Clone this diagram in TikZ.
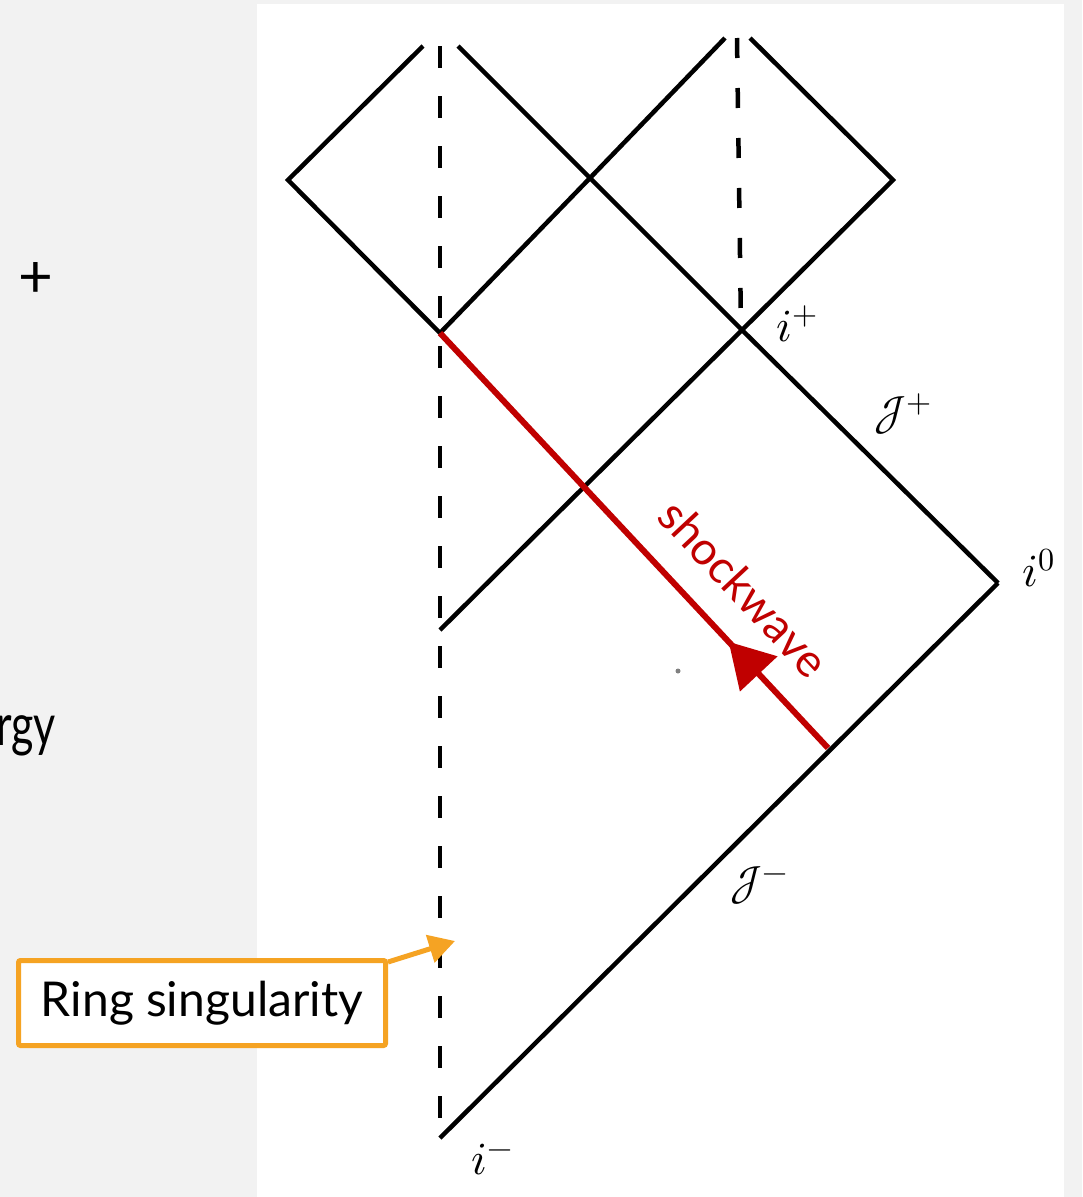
\documentclass[tikz,border=0pt]{standalone}
\usepackage{fontspec}
\usepackage{unicode-math}
\setmainfont{Lato}
\setmathfont{Latin Modern Math}
\usetikzlibrary{arrows.meta,decorations.markings}
\definecolor{bggray}{RGB}{242,242,242}
\definecolor{swred}{RGB}{192,0,0}
\definecolor{callout}{RGB}{245,163,35}
\tikzset{
  pline/.style={line width=4.5pt,black,line cap=butt},
  singline/.style={line width=4.5pt,black,dash pattern=on 22pt off 28pt},
  mathlab/.style={font=\fontsize{46}{50}\selectfont,inner sep=0pt},
  shockline/.style={swred,line width=6pt,postaction={decorate},
    decoration={markings,mark=at position 0.256 with {\arrow{Triangle[length=44pt,width=50pt]}}}},
  calloutbox/.style={draw=callout,line width=5pt,fill=white,rounded corners=2pt,
    minimum width=367pt,minimum height=85pt,inner sep=0pt,
    font=\fontsize{48}{52}\selectfont},
  calloutarrow/.style={callout,line width=5pt,-{Triangle[length=26pt,width=28pt]}}
}
\begin{document}
\begin{tikzpicture}[x=1pt,y=-1pt]
\fill[bggray] (0,0) rectangle (1082,1197);
\useasboundingbox (0,0) rectangle (1082,1197);
\fill[white] (257,4) rectangle (1064,1197);

% background slide fragments
\node[font=\fontsize{60}{64}\selectfont,inner sep=0pt] (plus) at (36,280) {+};
\node[font=\fontsize{58}{64}\selectfont,inner sep=0pt,anchor=base east] (rgy) at (56,745) {\scalebox{0.74}[1]{rgy}};

% key points
\coordinate (L) at (288,180);
\coordinate (A) at (423,46);
\coordinate (B) at (458,46);
\coordinate (C) at (440,333);
\coordinate (X) at (590,178);
\coordinate (D) at (725,38);
\coordinate (E) at (750,38);
\coordinate (R) at (893,180);
\coordinate (P) at (742,330);
\coordinate (Q) at (998,583);
\coordinate (S) at (440,630);
\coordinate (M) at (440,1138);
\coordinate (W) at (828,748);
\coordinate (Ltop) at (440,46);
\coordinate (Rtop) at (737,38);
\coordinate (Rbot) at (741,328);

% singular lines
\draw[singline] (Ltop) -- (M);
\draw[singline,dash pattern=on 20pt off 30pt] (Rtop) -- (Rbot);

% null lines
\draw[pline] (A) -- (L) -- (C);
\draw[pline] (C) -- (X) -- (D);
\draw[pline] (B) -- (X) -- (P) -- (Q);
\draw[pline] (E) -- (R) -- (P) -- (S);
\draw[pline] (M) -- (Q);

% shockwave
\draw[shockline] (W) -- (C);
\node[swred,font=\fontsize{46}{50}\selectfont,rotate=-46.9,inner sep=0pt] (swlab) at (744,588) {shockwave};
\fill[gray] (678,671) circle (2.5pt);

% labels
\node[mathlab] (iplus) at (797,324) {$i^+$};
\node[mathlab] (scrip) at (903,414) {$\mathcal{J}^+$};
\node[mathlab] (izero) at (1039,568) {$i^0$};
\node[mathlab] (scrim) at (759,886) {$\mathcal{J}^-$};
\node[mathlab] (iminus) at (492,1160) {$i^-$};

% callout
\node[calloutbox] (ring) at (202,1003) {Ring singularity};
\coordinate (ringtip) at (455,941);
\draw[calloutarrow] (ring.north east) ++(0,4) -- (ringtip);
\end{tikzpicture}
\end{document}
